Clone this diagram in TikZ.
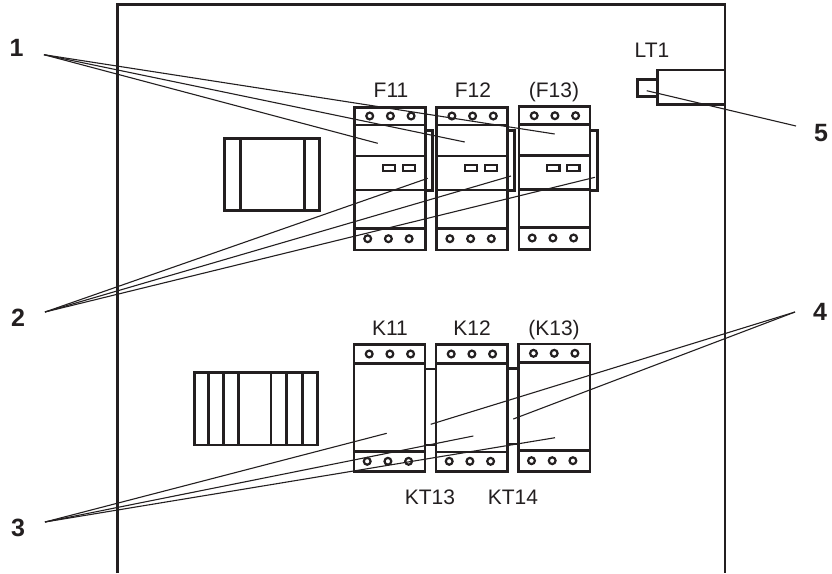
\documentclass[tikz,border=0pt]{standalone}
\usepackage{fontspec}
\setmainfont{Liberation Sans}
\definecolor{ink}{HTML}{231F20}
\tikzset{
  part/.style={draw=ink,line width=2.7pt,line join=miter},
  leader/.style={draw=ink,line width=1.1pt},
  tag/.style={text=ink,font=\fontsize{21}{21}\selectfont,inner sep=0pt,anchor=base},
  callout/.style={text=ink,font=\fontsize{25}{25}\bfseries\selectfont,inner sep=0pt,anchor=center},
  screw/.style={draw=ink,line width=2.2pt,fill=white,circle,inner sep=0pt,minimum size=6.8pt},
  slot/.style={draw=ink,line width=2.2pt},
}
% #1 left, #2 right, #3 top, #4 line1, #5 line2, #6 bottom, #7 top screw y, #8 bottom screw y,
\newcommand{\unitbody}[8]{%
  \draw[part] (#1,#3) rectangle (#2,#6);
  \draw[part] (#1,#4) -- (#2,#4) (#1,#5) -- (#2,#5);
  \foreach \d in {15.2,35.9,56.6} \node[screw] at (#1+\d,#7) {};
  \foreach \d in {13.2,33.9,54.6} \node[screw] at (#1+\d,#8) {};
}
% #1 left, #2 right, #3 band top, #4 band bottom, #5 tab right, #6 tab top, #7 slot top
\newcommand{\fusemid}[7]{%
  \draw[part] (#1,#3) -- (#2,#3) (#1,#4) -- (#2,#4);
  \draw[part] (#2,#6) -- (#5,#6) -- (#5,#4+0.7) -- (#2,#4+0.7);
  \draw[slot] (#1+28.2,#7) rectangle ++(12.3,5.6);
  \draw[slot] (#1+48.2,#7) rectangle ++(12.3,5.6);
}
\begin{document}
\begin{tikzpicture}[x=1pt,y=-1pt]
\useasboundingbox (0,0) rectangle (832,573);
\fill[white] (0,0) rectangle (832,573);

% cabinet
\draw[part] (117.5,573) -- (117.5,4.5) -- (725,4.5) -- (725,573);

% left blocks
\draw[part] (224.3,138.3) rectangle (319.3,210.7);
\draw[part] (240.3,138.3) -- (240.3,210.7) (304.3,138.3) -- (304.3,210.7);
\draw[part] (194.3,372.7) rectangle (317.3,445);
\foreach \x in {208.3,223.3,238.3,271,286.7,302.3} \draw[part] (\x,372.7) -- (\x,445);

% F units
\unitbody{354.5}{425.7}{107.3}{125}{228.7}{250}{116}{238.7}
\fusemid{354.5}{425.7}{156}{190}{432.7}{130.7}{165.3}
\unitbody{436.7}{507.7}{107.3}{125}{228.7}{250}{116}{238.7}
\fusemid{436.7}{507.7}{156}{190}{514.7}{130.7}{165.3}
\unitbody{519}{590}{106.7}{124.7}{227.7}{249.3}{115.7}{238}
\fusemid{519}{590}{155.7}{189.7}{597.3}{130.3}{165}

% K units
\unitbody{354}{425}{344.7}{363.3}{451.3}{471.3}{354}{461.3}
\unitbody{436}{507.3}{344.7}{363.3}{452}{471.3}{354}{461.3}
\unitbody{518.3}{590}{344}{362.3}{450.3}{471.3}{353.3}{460.7}
\draw[part] (425,369) -- (436,369) (425,445) -- (436,445);
\draw[part] (507.3,368.3) -- (518.3,368.3) (507.3,444) -- (518.3,444);

% LT1
\draw[part] (657.3,70) rectangle (725,104.3);
\draw[part] (657.3,79.3) -- (637.3,79.3) -- (637.3,96.7) -- (657.3,96.7);

% labels
\node[tag] (f11) at (391,97) {F11};
\node[tag] (f12) at (473,97) {F12};
\node[tag] (f13) at (554,97) {(F13)};
\node[tag] (k11) at (390,335) {K11};
\node[tag] (k12) at (472,335) {K12};
\node[tag] (k13) at (554,335) {(K13)};
\node[tag] (kt13) at (430,504) {KT13};
\node[tag] (kt14) at (513,504) {KT14};
\node[tag] (lt1) at (652,57) {LT1};
\node[callout] (n1) at (16.5,48) {1};
\node[callout] (n2) at (18,318) {2};
\node[callout] (n3) at (18,528) {3};
\node[callout] (n4) at (820,312) {4};
\node[callout] (n5) at (821,133) {5};

% leader hubs and ends
\coordinate (h1) at (44,54.7);
\coordinate (h2) at (45,312);
\coordinate (h3) at (45,522);
\coordinate (h4) at (795,312);
\coordinate (h5) at (796,126);
\coordinate (a1) at (377.7,143.3);
\coordinate (a2) at (464.7,142);
\coordinate (a3) at (554.7,134);
\coordinate (b1) at (427.7,178.3);
\coordinate (b2) at (511,176);
\coordinate (b3) at (595,177.3);
\coordinate (c1) at (386.7,433.3);
\coordinate (c2) at (473.3,436);
\coordinate (c3) at (555,437.7);
\coordinate (d1) at (430.7,424.3);
\coordinate (d2) at (513.3,419);
\coordinate (e1) at (646.7,90.7);

\foreach \e in {a1,a2,a3} \draw[leader] (h1) -- (\e);
\foreach \e in {b1,b2,b3} \draw[leader] (h2) -- (\e);
\foreach \e in {c1,c2,c3} \draw[leader] (h3) -- (\e);
\foreach \e in {d1,d2} \draw[leader] (h4) -- (\e);
\draw[leader] (h5) -- (e1);
\end{tikzpicture}
\end{document}
